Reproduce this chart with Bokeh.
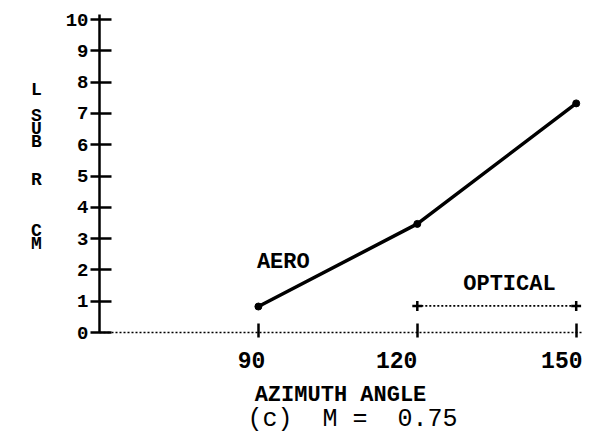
from bokeh.plotting import figure
from bokeh.models import FixedTicker, Label, Range1d, Title
from bokeh.embed import file_html
from bokeh.resources import INLINE

# ---- data ----
angle = [90, 120, 150]
aero = [0.83, 3.47, 7.32]
optical_angle = [120, 150]
optical = [0.85, 0.85]
x_ticks = [90, 120, 150]
x_tick_labels = {90: "90\u00a0", 120: "120\u00a0\u00a0\u00a0", 150: "150"}
y_ticks = [0, 1, 2, 3, 4, 5, 6, 7, 8, 9, 10]
y_label_lines = ["L", " ", "S", "U", "B", " ", " ", "R", " ", " ", " ", "C", "M", " "]
caption = "(c)\u00a0\u00a0M\u00a0=\u00a0\u00a00.75"

FONT = "Liberation Mono"

p = figure(width=582, height=448, output_backend="svg", toolbar_location=None,
           x_range=Range1d(60, 151), y_range=Range1d(0, 10.16),
           min_border_left=99, min_border_right=1, min_border_top=14,
           min_border_bottom=116)
p.outline_line_color = None
p.grid.visible = False
p.background_fill_color = "white"
p.border_fill_color = "white"

# x axis (dotted)
xa = p.xaxis[0]
xa.ticker = FixedTicker(ticks=x_ticks)
xa.major_label_overrides = x_tick_labels
xa.axis_line_dash = "2 2"
xa.axis_line_width = 1.5
xa.axis_line_color = "black"
xa.major_tick_in = 9
xa.major_tick_out = 5
xa.major_tick_line_width = 2.5
xa.major_tick_line_color = "black"
xa.minor_tick_line_color = None
xa.major_label_text_font = FONT
xa.major_label_text_font_style = "bold"
xa.major_label_text_font_size = "23px"
xa.major_label_text_color = "black"
xa.major_label_standoff = 11
xa.axis_label = "AZIMUTH ANGLE"
xa.axis_label_text_font = FONT
xa.axis_label_text_font_style = "bold"
xa.axis_label_text_font_size = "22px"
xa.axis_label_text_color = "black"
xa.axis_label_standoff = 5

# y axis (solid)
ya = p.yaxis[0]
ya.ticker = FixedTicker(ticks=y_ticks)
ya.axis_line_width = 2.5
ya.axis_line_color = "black"
ya.major_tick_in = 12
ya.major_tick_out = 9
ya.major_tick_line_width = 2.5
ya.major_tick_line_color = "black"
ya.minor_tick_line_color = None
ya.major_label_text_font = FONT
ya.major_label_text_font_style = "bold"
ya.major_label_text_font_size = "19px"
ya.major_label_text_color = "black"
ya.major_label_standoff = 2
ya.axis_label = "\n".join(y_label_lines)
ya.axis_label_orientation = "horizontal"
ya.axis_label_text_font = FONT
ya.axis_label_text_font_style = "bold"
ya.axis_label_text_font_size = "18px"
ya.axis_label_text_line_height = 0.64
ya.axis_label_text_color = "black"
ya.axis_label_standoff = 21

# caption
p.add_layout(Title(text=caption, align="left", offset=148, standoff=-15,
                   text_font=FONT, text_font_style="normal", text_font_size="25px",
                   text_color="black"), "below")

# AERO curve
p.line(angle, aero, line_width=3.5, line_color="black")
p.scatter(angle, aero, size=7, color="black")

# OPTICAL range
p.line(optical_angle, optical, line_width=1.8, line_color="black", line_dash="2 2")
p.scatter(optical_angle, optical, marker="cross", size=10, line_width=2.5, color="black")

# text labels
p.add_layout(Label(x=94.7, y=2.24, text="AERO", text_align="center", text_baseline="middle",
                   text_font=FONT, text_font_style="bold", text_font_size="22px",
                   text_color="black"))
p.add_layout(Label(x=137.4, y=1.54, text="OPTICAL", text_align="center", text_baseline="middle",
                   text_font=FONT, text_font_style="bold", text_font_size="22px",
                   text_color="black"))

open("out.html", "w").write(file_html(p, INLINE))
